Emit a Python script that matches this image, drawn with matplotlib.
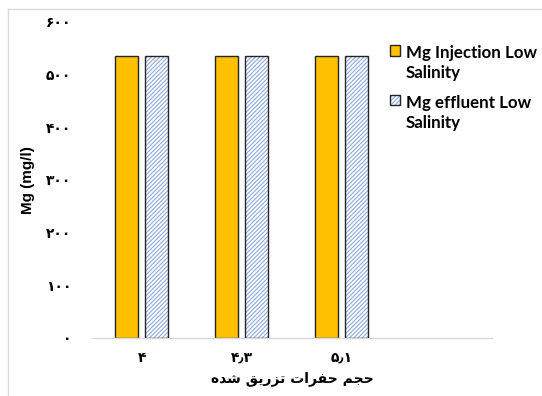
import numpy as np
import matplotlib
matplotlib.use('Agg')
from matplotlib import pyplot as plt
from matplotlib.lines import Line2D
from matplotlib.patches import Patch

# pore volumes injected (Persian numerals) and Mg concentrations (mg/l)
pore_volumes = ['۴', '۴٫۳', '۵٫۱']
mg_injection = [535, 535, 535]
mg_effluent = [535, 535, 535]

series_names = ['Mg Injection Low\nSalinity', 'Mg effluent Low\nSalinity']
x_title = 'حجم حفرات تزریق شده'
y_title = 'Mg (mg/l)'
y_ticks = [0, 100, 200, 300, 400, 500, 600]

FA_DIGITS = str.maketrans('0123456789.', '۰۱۲۳۴۵۶۷۸۹٫')

# contextual glyphs: isolated, final, initial, medial
FORMS = {
    'ا': ('\uFE8D', '\uFE8E'),
    'ت': ('\uFE95', '\uFE96', '\uFE97', '\uFE98'),
    'ج': ('\uFE9D', '\uFE9E', '\uFE9F', '\uFEA0'),
    'ح': ('\uFEA1', '\uFEA2', '\uFEA3', '\uFEA4'),
    'د': ('\uFEA9', '\uFEAA'),
    'ر': ('\uFEAD', '\uFEAE'),
    'ز': ('\uFEAF', '\uFEB0'),
    'ش': ('\uFEB5', '\uFEB6', '\uFEB7', '\uFEB8'),
    'ف': ('\uFED1', '\uFED2', '\uFED3', '\uFED4'),
    'ق': ('\uFED5', '\uFED6', '\uFED7', '\uFED8'),
    'م': ('\uFEE1', '\uFEE2', '\uFEE3', '\uFEE4'),
    'ه': ('\uFEE9', '\uFEEA', '\uFEEB', '\uFEEC'),
    'ی': ('\uFBFC', '\uFBFD', '\uFBFE', '\uFBFF'),
}


def shape_rtl(text):
    """Join Persian letters and put them in visual (left-to-right) order."""
    words = []
    for word in text.split(' '):
        glyphs = []
        for i, ch in enumerate(word):
            forms = FORMS.get(ch)
            if forms is None:
                glyphs.append(ch)
                continue
            prev = word[i - 1] if i > 0 else None
            nxt = word[i + 1] if i + 1 < len(word) else None
            joins_prev = prev in FORMS and len(FORMS[prev]) == 4
            joins_next = nxt in FORMS and len(forms) == 4
            if joins_prev and joins_next:
                glyphs.append(forms[3])
            elif joins_prev:
                glyphs.append(forms[1])
            elif joins_next:
                glyphs.append(forms[2])
            else:
                glyphs.append(forms[0])
        words.append(''.join(reversed(glyphs)))
    return ' '.join(reversed(words))


plt.rcParams['hatch.linewidth'] = 0.8

fig = plt.figure(figsize=(5.42, 3.96), dpi=100)
ax = fig.add_axes([92 / 542, 58 / 396, 400 / 542, 316 / 396])

x = np.arange(len(pore_volumes))
width = 0.23
edge = '#262626'
hatch_blue = '#8EA9DB'
hatch = '////////'

ax.bar(x - 0.16, mg_injection, width, color='#FFC000', edgecolor=edge,
       linewidth=1.0, zorder=2)
# hatched bars: hatch layer first, dark outline on top
ax.bar(x + 0.14, mg_effluent, width, color='white', edgecolor=hatch_blue,
       linewidth=0, hatch=hatch, zorder=2)
ax.bar(x + 0.14, mg_effluent, width, fill=False, edgecolor=edge,
       linewidth=1.0, zorder=3)

ax.set_xlim(-0.5, 3.5)
ax.set_ylim(0, 600)
ax.set_xticks(x)
ax.set_xticklabels(pore_volumes, fontsize=10, fontweight='bold', family='DejaVu Sans')
ax.set_yticks(y_ticks)
ax.set_yticklabels([str(v).translate(FA_DIGITS) for v in y_ticks],
                   fontsize=10, fontweight='bold', family='DejaVu Sans')
ax.tick_params(axis='y', length=0, pad=15)
ax.tick_params(axis='x', length=0, pad=9)

for side in ['top', 'right', 'left']:
    ax.spines[side].set_visible(False)
ax.spines['bottom'].set_color('#d9d9d9')
ax.spines['bottom'].set_linewidth(1.0)

ax.set_xlabel(shape_rtl(x_title), fontsize=10, fontweight='bold',
              family='DejaVu Sans', labelpad=5)
ax.set_ylabel(y_title, fontsize=11, fontweight='bold', family='Liberation Sans')
ax.yaxis.set_label_coords(-0.142, 0.5)

# legend: hatch square drawn under its outline
h1 = Patch(facecolor='#FFC000', edgecolor=edge, linewidth=1.0)
h2a = Patch(facecolor='white', edgecolor=hatch_blue, linewidth=0, hatch=hatch)
h2b = Patch(fill=False, edgecolor=edge, linewidth=1.0)
leg = fig.legend([h1, (h2a, h2b)], series_names, loc='upper left',
                 bbox_to_anchor=(383 / 542, 1 - 38 / 396), frameon=False,
                 prop={'family': 'Lato', 'weight': 'bold', 'size': 12.2},
                 handlelength=0.6, handleheight=0.6, handletextpad=0.35,
                 labelspacing=0.78, borderaxespad=0)
for text in leg.get_texts():
    text.set_linespacing(1.35)
for col in leg._legend_handle_box.get_children():
    for row in col.get_children():
        row.align = 'top'

# light frame around the chart area
fig.add_artist(Line2D([8 / 542, 1], [1 - 9 / 396] * 2, color='#d9d9d9', lw=1))
fig.add_artist(Line2D([8 / 542] * 2, [0, 1 - 9 / 396], color='#d9d9d9', lw=1))

fig.savefig('out.png', dpi=100)
